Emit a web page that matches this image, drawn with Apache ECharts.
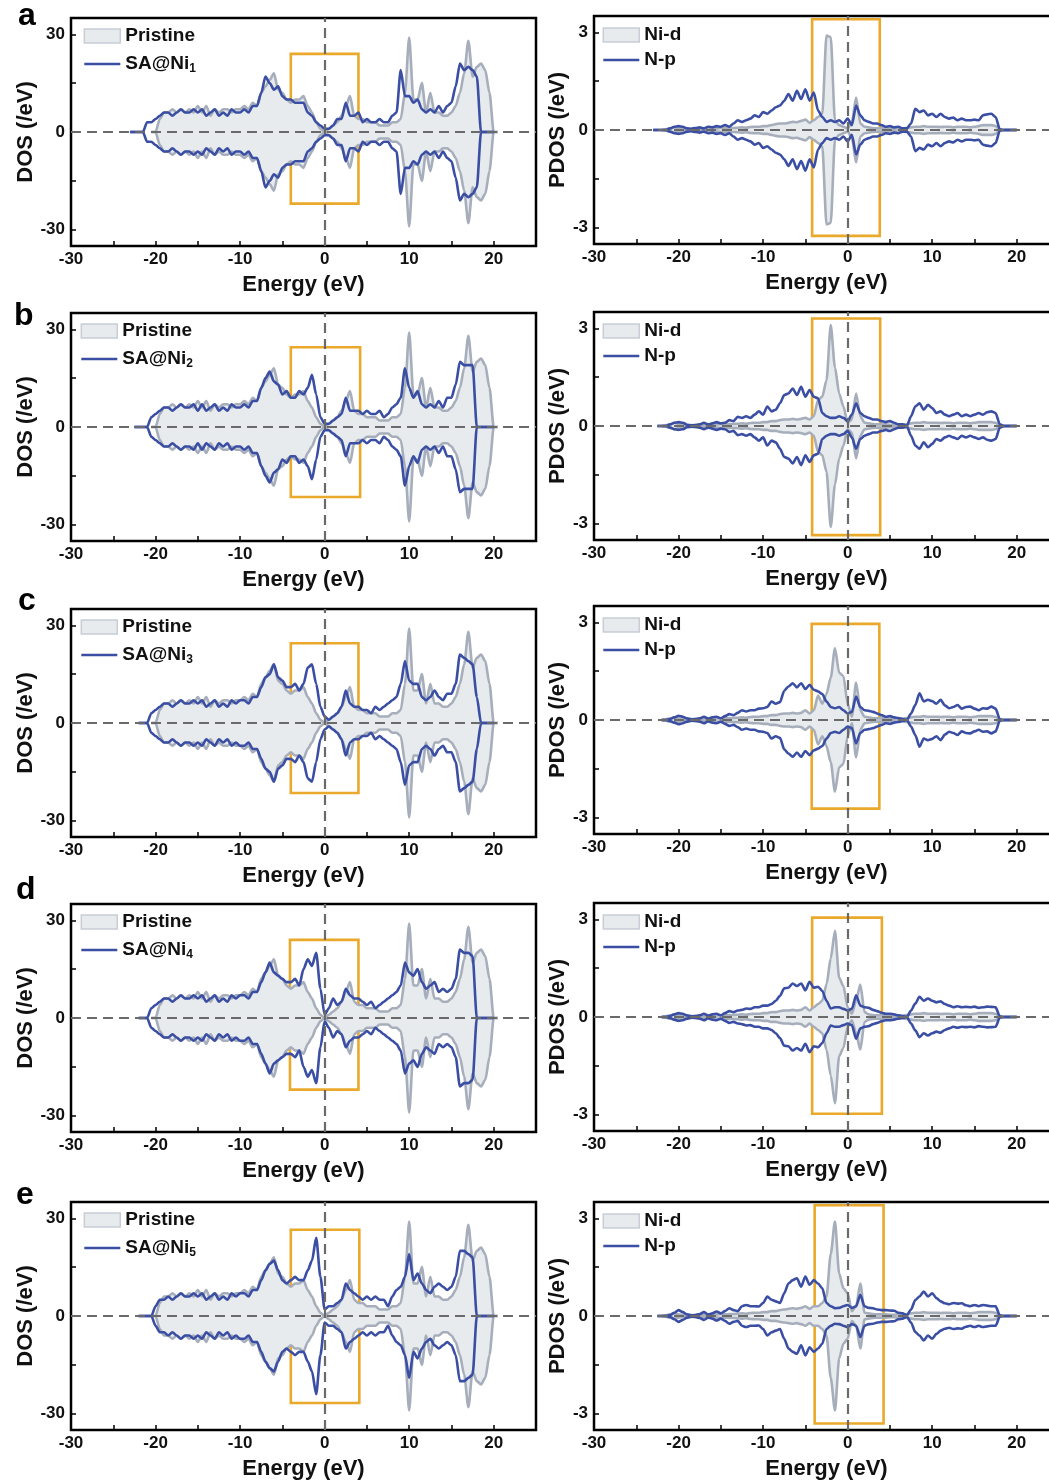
<!DOCTYPE html>
<html>
<head>
<meta charset="utf-8">
<script src="https://cdn.jsdelivr.net/npm/echarts@6/dist/echarts.min.js"></script>
<style>
  html, body { margin: 0; background: #fff; }
  #chart { width: 1049px; height: 1481px; }
</style>
</head>
<body>
<div id="chart"></div>
<script>
// energy grid (eV), shared by every curve
const energy = [
  -23, -22.5, -22, -21.5, -21, -20.5, -20, -19.5, -19, -18.5,
  -18, -17.5, -17, -16.5, -16, -15.5, -15, -14.5, -14, -13.5,
  -13, -12.5, -12, -11.5, -11, -10.5, -10, -9.5, -9, -8.5,
  -8, -7.5, -7, -6.5, -6, -5.5, -5, -4.5, -4, -3.5,
  -3, -2.5, -2, -1.5, -1, -0.5, 0, 0.5, 1, 1.5,
  2, 2.5, 3, 3.5, 4, 4.5, 5, 5.5, 6, 6.5,
  7, 7.5, 8, 8.5, 9, 9.5, 10, 10.5, 11, 11.5,
  12, 12.5, 13, 13.5, 14, 14.5, 15, 15.5, 16, 16.5,
  17, 17.5, 18, 18.5, 19, 19.5, 20, 20.5
];

// total DOS, pristine (same in every row), spin up; spin down is its mirror
const pristine = [
  null, null, null, null, null, 0, 0, 4, 6, 6,
  7, 6, 7, 6, 7, 6, 8, 6, 8, 5,
  7, 6, 7, 7, 6, 7, 7, 8, 7, 9,
  8, 12, 14, 16, 18, 13, 12, 10, 9, 10,
  10, 11, 8, 6, 3, 1, 0, 1, 2, 3,
  5, 8, 11, 5, 4, 4, 3, 3, 3, 2,
  2, 2, 3, 3, 4, 12, 29, 10, 10, 15,
  6, 12, 6, 6, 5, 5, 6, 8, 12, 18,
  28, 17, 20, 21, 19, 12, 0, 0
];

const saNi1 = [
  0, 0, 0, 0, 3, 3, 4, 5, 6, 6,
  5, 6, 7, 6, 6, 7, 6, 7, 5, 6,
  7, 5, 6, 5, 7, 6, 6, 7, 6, 8,
  8, 12, 17, 15, 13, 14, 11, 10, 10, 9,
  9, 9, 6, 5, 3, 2, 1, 1, 2, 4,
  4, 9, 5, 5, 6, 3, 4, 3, 3, 4,
  3, 3, 5, 6, 19, 11, 11, 9, 10, 7,
  6, 7, 6, 8, 6, 8, 9, 14, 21, 19,
  20, 19, 17, 0, 0, 0, 0, null
];
const saNi2 = [
  null, 0, 0, 0, 0, 3, 4, 5, 6, 6,
  5, 6, 7, 6, 6, 7, 5, 7, 5, 6,
  7, 5, 6, 5, 7, 6, 6, 7, 6, 8,
  8, 12, 15, 17, 14, 13, 10, 11, 9, 9,
  11, 10, 12, 16, 10, 3, 1, 1, 2, 3,
  4, 9, 5, 5, 5, 4, 5, 4, 4, 5,
  3, 4, 6, 7, 9, 18, 12, 9, 11, 7,
  6, 7, 6, 8, 6, 9, 9, 13, 20, 19,
  19, 19, 0, 0, 0, 0, 0, null
];
const saNi3 = [
  null, null, 0, 0, 0, 3, 4, 5, 6, 6,
  5, 6, 7, 6, 6, 7, 6, 7, 5, 6,
  7, 5, 6, 5, 7, 6, 7, 7, 6, 8,
  8, 11, 14, 15, 18, 14, 13, 11, 11, 12,
  10, 12, 17, 18, 12, 5, 2, 1, 2, 3,
  5, 10, 6, 5, 5, 4, 4, 3, 5, 4,
  5, 6, 7, 8, 12, 19, 13, 12, 12, 8,
  7, 8, 10, 8, 7, 9, 9, 12, 21, 20,
  19, 18, 8, 0, 0, 0, 0, null
];
const saNi4 = [
  null, null, 0, 0, 0, 3, 4, 5, 6, 6,
  5, 6, 7, 6, 6, 7, 6, 7, 5, 6,
  7, 5, 6, 5, 7, 6, 7, 7, 6, 8,
  8, 11, 14, 17, 14, 13, 12, 11, 11, 12,
  10, 15, 18, 16, 20, 9, 1, 3, 6, 4,
  5, 9, 7, 6, 6, 5, 4, 5, 3, 4,
  5, 6, 7, 8, 10, 17, 14, 13, 15, 11,
  9, 10, 11, 8, 9, 8, 9, 12, 21, 20,
  20, 19, 0, 0, 0, 0, 0, null
];
const saNi5 = [
  null, null, 0, 0, 0, 0, 3, 5, 5, 6,
  5, 6, 7, 6, 6, 7, 6, 7, 5, 6,
  7, 5, 6, 5, 7, 6, 7, 7, 6, 8,
  8, 11, 14, 16, 17, 14, 11, 10, 11, 12,
  11, 11, 14, 17, 24, 12, 2, 3, 3, 4,
  5, 10, 8, 7, 6, 5, 6, 5, 6, 5,
  5, 3, 6, 8, 9, 12, 19, 11, 13, 10,
  8, 7, 9, 10, 9, 8, 9, 12, 20, 20,
  19, 18, 0, 0, 0, 0, 0, null
];

// projected DOS, Ni-d (filled) and N-p (line)
const niD1 = [
  null, null, 0, 0.02, 0.05, 0.08, 0.05, 0.03, 0.02, 0.03,
  0.03, 0.04, 0.03, 0.05, 0.04, 0.05, 0.06, 0.05, 0.06, 0.06,
  0.07, 0.08, 0.07, 0.09, 0.1, 0.1, 0.12, 0.12, 0.15, 0.18,
  0.2, 0.2, 0.22, 0.25, 0.24, 0.28, 0.32, 0.22, 0.3, 0.4,
  0.5, 2.9, 2.85, 0.3, 0.15, 0.1, 0.05, 0.25, 1.0, 0.2,
  0.1, 0.08, 0.06, 0.05, 0.05, 0.05, 0.04, 0.04, 0.05, 0.04,
  0.06, 0.08, 0.1, 0.1, 0.12, 0.1, 0.1, 0.1, 0.09, 0.1,
  0.1, 0.08, 0.1, 0.1, 0.1, 0.08, 0.1, 0.12, 0.15, 0.15,
  0.15, 0.12, 0.02, 0, 0, 0, 0, null
];
const niD2 = [
  null, null, 0, 0.02, 0.05, 0.1, 0.06, 0.03, 0.02, 0.03,
  0.03, 0.04, 0.03, 0.05, 0.04, 0.05, 0.06, 0.05, 0.06, 0.06,
  0.07, 0.08, 0.07, 0.09, 0.1, 0.1, 0.12, 0.12, 0.15, 0.15,
  0.18, 0.2, 0.2, 0.22, 0.2, 0.22, 0.25, 0.2, 0.3, 0.8,
  0.9, 1.4, 3.1, 1.8, 1.0, 0.6, 0.1, 0.2, 1.0, 0.3,
  0.1, 0.08, 0.06, 0.05, 0.05, 0.05, 0.04, 0.04, 0.05, 0.04,
  0.06, 0.08, 0.1, 0.1, 0.12, 0.1, 0.1, 0.1, 0.09, 0.1,
  0.1, 0.08, 0.1, 0.1, 0.1, 0.08, 0.1, 0.12, 0.12, 0.12,
  0.12, 0.1, 0.02, 0, 0, 0, 0, null
];
const niD3 = [
  null, null, 0, 0.02, 0.05, 0.08, 0.05, 0.03, 0.02, 0.03,
  0.03, 0.04, 0.03, 0.05, 0.04, 0.05, 0.06, 0.05, 0.06, 0.06,
  0.07, 0.08, 0.07, 0.09, 0.1, 0.1, 0.12, 0.12, 0.15, 0.15,
  0.18, 0.2, 0.2, 0.22, 0.2, 0.22, 0.3, 0.2, 0.3, 0.75,
  0.5, 0.8, 1.3, 2.2, 1.45, 1.35, 0.5, 0.1, 1.15, 0.3,
  0.1, 0.08, 0.06, 0.05, 0.05, 0.05, 0.04, 0.04, 0.05, 0.04,
  0.06, 0.08, 0.1, 0.1, 0.12, 0.1, 0.1, 0.1, 0.09, 0.1,
  0.1, 0.08, 0.1, 0.1, 0.1, 0.08, 0.1, 0.12, 0.12, 0.12,
  0.12, 0.1, 0.02, 0, 0, 0, 0, null
];
const niD4 = [
  null, null, 0, 0.02, 0.05, 0.08, 0.05, 0.03, 0.02, 0.03,
  0.03, 0.04, 0.03, 0.05, 0.04, 0.05, 0.06, 0.05, 0.06, 0.06,
  0.07, 0.08, 0.07, 0.09, 0.1, 0.1, 0.12, 0.12, 0.15, 0.15,
  0.18, 0.2, 0.2, 0.22, 0.2, 0.22, 0.3, 0.2, 0.3, 0.4,
  0.5, 1.0, 1.8, 2.65, 1.2, 0.95, 0.3, 0.1, 0.5, 1.0,
  0.15, 0.08, 0.06, 0.05, 0.05, 0.05, 0.04, 0.04, 0.05, 0.04,
  0.06, 0.08, 0.1, 0.1, 0.12, 0.1, 0.1, 0.1, 0.09, 0.1,
  0.1, 0.08, 0.1, 0.1, 0.1, 0.08, 0.1, 0.12, 0.12, 0.12,
  0.12, 0.1, 0.02, 0, 0, 0, 0, null
];
const niD5 = [
  null, null, 0, 0.02, 0.05, 0.08, 0.05, 0.03, 0.02, 0.03,
  0.03, 0.04, 0.03, 0.05, 0.04, 0.05, 0.06, 0.05, 0.06, 0.06,
  0.07, 0.08, 0.07, 0.09, 0.1, 0.1, 0.12, 0.12, 0.15, 0.15,
  0.18, 0.2, 0.22, 0.24, 0.22, 0.25, 0.3, 0.22, 0.3, 0.3,
  0.4, 0.6, 1.9, 2.9, 1.3, 0.85, 0.7, 0.15, 0.3, 1.0,
  0.1, 0.08, 0.06, 0.05, 0.05, 0.05, 0.04, 0.04, 0.05, 0.04,
  0.06, 0.08, 0.1, 0.1, 0.12, 0.1, 0.1, 0.1, 0.09, 0.1,
  0.1, 0.08, 0.1, 0.1, 0.1, 0.08, 0.1, 0.12, 0.12, 0.12,
  0.12, 0.1, 0.02, 0, 0, 0, 0, null
];

const nP1 = [
  0, 0, 0, 0, 0.05, 0.1, 0.12, 0.1, 0.05, 0.04,
  0.06, 0.08, 0.05, 0.1, 0.08, 0.12, 0.1, 0.15, 0.1, 0.2,
  0.3, 0.25, 0.3, 0.35, 0.45, 0.4, 0.55, 0.5, 0.6, 0.7,
  0.75, 0.9, 1.1, 0.9, 1.2, 0.95, 1.25, 0.9, 1.15, 0.6,
  0.4, 0.25, 0.3, 0.25, 0.3, 0.2, 0.35, 0.15, 0.75, 0.45,
  0.3, 0.25, 0.2, 0.2, 0.15, 0.1, 0.12, 0.08, 0.1, 0.05,
  0.05, 0.2, 0.65, 0.55, 0.6, 0.45, 0.5, 0.4, 0.5, 0.4,
  0.35, 0.38, 0.3, 0.35, 0.3, 0.3, 0.32, 0.3, 0.45, 0.48,
  0.5, 0.4, 0.02, 0, 0, 0, 0, null
];
const nP2 = [
  null, 0, 0, 0, 0.05, 0.1, 0.12, 0.1, 0.04, 0.02,
  0.03, 0.05, 0.1, 0.05, 0.08, 0.12, 0.08, 0.1, 0.18, 0.15,
  0.28, 0.25, 0.3, 0.25, 0.35, 0.45, 0.35, 0.6, 0.45, 0.5,
  0.7, 0.95, 1.0, 1.15, 0.95, 1.2, 0.9, 1.1, 0.9, 0.85,
  0.4, 0.3, 0.25, 0.25, 0.3, 0.25, 0.15, 0.35, 0.7, 0.4,
  0.3, 0.25, 0.2, 0.2, 0.15, 0.12, 0.15, 0.1, 0.05, 0.05,
  0, 0.3, 0.6, 0.7, 0.5, 0.65, 0.55, 0.4, 0.45, 0.35,
  0.3, 0.35, 0.4, 0.3, 0.35, 0.3, 0.35, 0.4, 0.35, 0.42,
  0.45, 0.4, 0.05, 0, 0, 0, 0, null
];
const nP3 = [
  null, null, 0, 0, 0.03, 0.08, 0.13, 0.1, 0.05, 0.02,
  0.03, 0.05, 0.1, 0.04, 0.08, 0.1, 0.05, 0.12, 0.18, 0.15,
  0.22, 0.3, 0.26, 0.3, 0.3, 0.35, 0.36, 0.4, 0.57, 0.5,
  0.55, 0.9, 1.03, 1.13, 1.0, 1.13, 0.95, 1.08, 0.93, 0.88,
  0.8, 0.57, 0.4, 0.36, 0.4, 0.3, 0.2, 0.25, 0.72, 0.4,
  0.3, 0.28, 0.25, 0.2, 0.15, 0.1, 0.12, 0.08, 0.06, 0.03,
  0, 0.2, 0.46, 0.82, 0.57, 0.62, 0.58, 0.5, 0.62, 0.45,
  0.36, 0.4, 0.46, 0.35, 0.4, 0.41, 0.35, 0.3, 0.36, 0.35,
  0.41, 0.35, 0.02, 0, 0, 0, 0, null
];
const nP4 = [
  null, null, 0, 0, 0.03, 0.08, 0.12, 0.1, 0.05, 0.02,
  0.03, 0.05, 0.1, 0.04, 0.08, 0.1, 0.05, 0.12, 0.18, 0.15,
  0.2, 0.22, 0.26, 0.25, 0.3, 0.3, 0.35, 0.35, 0.4, 0.5,
  0.65, 0.88, 0.9, 1.03, 0.95, 1.03, 0.82, 1.08, 0.9, 0.93,
  0.8, 0.5, 0.26, 0.3, 0.3, 0.25, 0.2, 0.25, 0.67, 0.35,
  0.3, 0.28, 0.22, 0.18, 0.13, 0.1, 0.1, 0.08, 0.05, 0.03,
  0, 0.2, 0.41, 0.62, 0.5, 0.57, 0.5, 0.45, 0.48, 0.4,
  0.35, 0.3, 0.33, 0.3, 0.31, 0.3, 0.32, 0.28, 0.3, 0.32,
  0.31, 0.3, 0.02, 0, 0, 0, 0, null
];
const nP5 = [
  null, 0, 0, 0, 0.03, 0.1, 0.18, 0.12, 0.05, 0.02,
  0.03, 0.06, 0.12, 0.05, 0.08, 0.14, 0.08, 0.15, 0.24, 0.18,
  0.15, 0.3, 0.34, 0.3, 0.3, 0.29, 0.4, 0.6, 0.5, 0.45,
  0.4, 0.7, 1.0, 1.1, 1.16, 0.9, 1.21, 0.96, 1.1, 1.0,
  0.85, 0.4, 0.3, 0.24, 0.25, 0.3, 0.34, 0.25, 0.3, 0.65,
  0.3, 0.25, 0.24, 0.2, 0.18, 0.18, 0.17, 0.16, 0.1, 0.08,
  0.02, 0.2, 0.49, 0.6, 0.75, 0.6, 0.7, 0.55, 0.45, 0.39,
  0.36, 0.4, 0.38, 0.39, 0.33, 0.3, 0.34, 0.3, 0.34, 0.32,
  0.3, 0.3, 0.02, 0, 0, 0, 0, null
];

const saNames = ['SA@Ni1', 'SA@Ni2', 'SA@Ni3', 'SA@Ni4', 'SA@Ni5'];
const saSets = [saNi1, saNi2, saNi3, saNi4, saNi5];
const niDSets = [niD1, niD2, niD3, niD4, niD5];
const nPSets = [nP1, nP2, nP3, nP4, nP5];
const panelLetters = ['a', 'b', 'c', 'd', 'e'];

// highlight boxes [x0, y0, x1, y1] in data units
const boxDos = [[-4, 24, 4, -22], [-4, 24.5, 4.2, -21.5], [-4, 24.5, 4, -21.5], [-4.1, 24, 4, -22], [-4, 26.5, 4.1, -26.7]];
const boxPdos = [[-4.2, 3.4, 3.8, -3.25], [-4.2, 3.3, 3.85, -3.35], [-4.25, 2.95, 3.75, -2.72], [-4.2, 3.05, 4.05, -2.97], [-3.9, 3.4, 4.25, -3.3]];

const xLabels = [-30, -20, -10, 0, 10, 20];
const xTicks = [-25, -20, -15, -10, -5, 0, 5, 10, 15, 20];
const dosLabels = [-30, 0, 30];
const dosTicks = [-30, -15, 0, 15, 30];
const pdosLabels = [-3, 0, 3];
const pdosTicks = [-3, -1.5, 0, 1.5, 3];

const FONT = '"Liberation Sans", Arial, sans-serif';
const BLUE = '#3a4ea3';
const GRAY = '#a7aebb';
const FILL = '#e7ebee';
const ORANGE = '#eaa92a';
const DASH = '#6a6a6a';

const leftTop = [18, 313, 609, 904, 1202];
const rightTop = [16, 312, 606, 903, 1202];
const legendLeftX = [78, 75, 75, 75, 78];
const letterX = [18, 14, 18, 16, 16];
const letterY = [0, 300, 585, 874, 1179];

function pts(vals, sign) {
  return energy.map((e, i) => [e, vals[i] === null ? '-' : sign * vals[i]]);
}

const labelStyle = { fontFamily: FONT, fontSize: 17, fontWeight: 'bold', color: '#111' };
const nameStyle = { fontFamily: FONT, fontSize: 22, fontWeight: 'bold', color: '#111' };

const grids = [], xAxes = [], yAxes = [], series = [], legends = [];

function addPanel(g, left, top, yMax, yName, nameGap, yLab, yTick, box, filled, line, fillName, lineName) {
  grids.push({
    left: left, top: top, width: 465, height: 228,
    show: true, borderColor: '#000', borderWidth: 2.5, backgroundColor: 'transparent',
    outerBoundsMode: 'none'
  });
  xAxes.push({
    gridIndex: g, type: 'value', min: -30, max: 25, position: 'bottom',
    name: 'Energy (eV)', nameLocation: 'middle', nameGap: 28, nameTextStyle: nameStyle,
    axisLine: { show: false, onZero: false },
    axisTick: { show: true, inside: true, length: 5, lineStyle: { color: '#000', width: 1.5 }, customValues: xTicks },
    axisLabel: Object.assign({ margin: 5, customValues: xLabels }, labelStyle),
    splitLine: { show: false }
  });
  yAxes.push({
    gridIndex: g, type: 'value', min: -yMax, max: yMax, position: 'left',
    name: yName, nameLocation: 'middle', nameGap: nameGap, nameRotate: 90, nameTextStyle: nameStyle,
    axisLine: { show: false, onZero: false },
    axisTick: { show: true, inside: true, length: 5, lineStyle: { color: '#000', width: 1.5 }, customValues: yTick },
    axisLabel: Object.assign({ margin: 6, customValues: yLab }, labelStyle),
    splitLine: { show: false }
  });
  [1, -1].forEach(s => {
    series.push({
      type: 'line', name: fillName, xAxisIndex: g, yAxisIndex: g,
      data: pts(filled, s), symbol: 'none', z: 2, silent: true,
      smooth: 0.25, smoothMonotone: 'x',
      lineStyle: { color: GRAY, width: 2.6 }, itemStyle: { color: GRAY },
      areaStyle: { color: FILL, opacity: 1 }
    });
  });
  [1, -1].forEach(s => {
    series.push({
      type: 'line', name: lineName, xAxisIndex: g, yAxisIndex: g,
      data: pts(line, s), symbol: 'none', z: 4, silent: true,
      smooth: 0.25, smoothMonotone: 'x',
      lineStyle: { color: BLUE, width: 2.6 }, itemStyle: { color: BLUE }
    });
  });
  series.push({
    type: 'line', xAxisIndex: g, yAxisIndex: g, data: [], z: 5, silent: true,
    markLine: {
      silent: true, symbol: ['none', 'none'], label: { show: false },
      lineStyle: { color: DASH, type: [10, 6], width: 2.2 },
      data: [{ yAxis: 0 }, { xAxis: 0 }]
    },
    markArea: {
      silent: true, label: { show: false },
      itemStyle: { color: 'rgba(0,0,0,0)', borderColor: ORANGE, borderWidth: 2.6 },
      data: [[{ xAxis: box[0], yAxis: box[1] }, { xAxis: box[2], yAxis: box[3] }]]
    }
  });
}

function addLegend(left, top, gap, fillName, lineName) {
  legends.push({
    left: left, top: top, orient: 'vertical', itemWidth: 36, itemHeight: 14, itemGap: gap,
    selectedMode: false,
    textStyle: {
      fontFamily: FONT, fontSize: 19, fontWeight: 'bold', color: '#111', lineHeight: 22,
      rich: { s: { fontFamily: FONT, fontSize: 12, fontWeight: 'bold', color: '#111', verticalAlign: 'bottom', lineHeight: 12 } }
    },
    formatter: name => name.indexOf('SA@Ni') === 0 ? 'SA@Ni{s|' + name.slice(5) + '}' : name,
    data: [
      { name: fillName, icon: 'rect', itemStyle: { color: FILL, borderColor: '#c8cdd6', borderWidth: 1.5 } },
      { name: lineName, itemStyle: { color: 'rgba(0,0,0,0)', borderWidth: 0 }, lineStyle: { color: BLUE, width: 2.6 } }
    ]
  });
}

for (let i = 0; i < 5; i++) {
  addPanel(2 * i, 71, leftTop[i], 35, 'DOS (/eV)', 34, dosLabels, dosTicks, boxDos[i], pristine, saSets[i], 'Pristine', saNames[i]);
  addPanel(2 * i + 1, 594, rightTop[i], 3.5, 'PDOS (/eV)', 23, pdosLabels, pdosTicks, boxPdos[i], niDSets[i], nPSets[i], 'Ni-d', 'N-p');
  addLegend(legendLeftX[i], leftTop[i] + 2, 6, 'Pristine', saNames[i]);
  addLegend(597, rightTop[i] + 3, 3, 'Ni-d', 'N-p');
}

const chart = echarts.init(document.getElementById('chart'), null, { renderer: 'canvas' });
chart.setOption({
  backgroundColor: '#fff',
  animation: false,
  grid: grids,
  xAxis: xAxes,
  yAxis: yAxes,
  legend: legends,
  series: series,
  graphic: panelLetters.map((t, i) => ({
    type: 'text', left: letterX[i], top: letterY[i],
    style: { text: t, font: 'bold 32px "Liberation Sans", Arial, sans-serif', fill: '#000' }
  }))
});
</script>
</body>
</html>
